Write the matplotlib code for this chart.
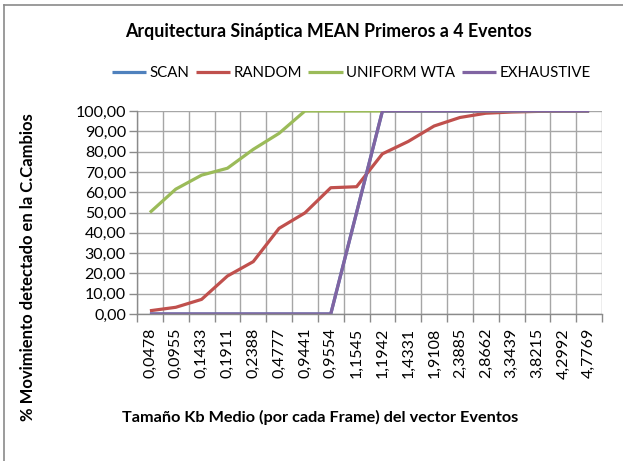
import matplotlib
matplotlib.use("Agg")
import matplotlib.pyplot as plt
from matplotlib.lines import Line2D
import numpy as np

categories = ["0,0478", "0,0955", "0,1433", "0,1911", "0,2388", "0,4777", "0,9441",
              "0,9554", "1,1545", "1,1942", "1,4331", "1,9108", "2,3885", "2,8662",
              "3,3439", "3,8215", "4,2992", "4,7769"]
scan = [0, 0, 0, 0, 0, 0, 0, 0, 50, 100, 100, 100, 100, 100, 100, 100, 100, 100]
random_ = [1.6, 3.3, 7.2, 18.7, 25.8, 42.2, 49.8, 62.2, 62.7, 78.9, 85.0, 92.6,
           96.8, 98.9, 99.5, 99.8, 100, 100]
uniform_wta = [50, 61.5, 68.4, 71.8, 81.1, 89.0, 100, 100, 100, 100, 100, 100,
               100, 100, 100, 100, 100, 100]
exhaustive = [0, 0, 0, 0, 0, 0, 0, 0, 50, 100, 100, 100, 100, 100, 100, 100, 100, 100]
series_names = ["SCAN", "RANDOM", "UNIFORM WTA", "EXHAUSTIVE"]
yticks = [0, 10, 20, 30, 40, 50, 60, 70, 80, 90, 100]

colors = ["#4F81BD", "#C0504D", "#9BBB59", "#8064A2"]
FONT = "Lato"

W, H = 623, 461
fig = plt.figure(figsize=(W / 100, H / 100), dpi=100)
fig.patch.set_facecolor("white")

# chart frame (left and top)
fig.add_artist(Line2D([4 / W, 4 / W], [0, 1 - 5 / H], transform=fig.transFigure,
                      color="#8a8a8a", lw=1.2))
fig.add_artist(Line2D([4 / W, 1], [1 - 5 / H, 1 - 5 / H], transform=fig.transFigure,
                      color="#8a8a8a", lw=1.2))

left, right, top, bottom = 137 / W, 602 / W, 111 / H, 314 / H
ax = fig.add_axes([left, 1 - bottom, right - left, bottom - top])

x = np.arange(len(categories))
data = [scan, random_, uniform_wta, exhaustive]
handles = []
for vals, c, name in zip(data, colors, series_names):
    (ln,) = ax.plot(x, vals, color=c, lw=2.3, label=name, solid_capstyle="butt")
    handles.append(ln)

ax.set_xlim(-0.5, len(categories) - 0.5)
ax.set_ylim(0, 100)
ax.set_yticks(yticks)
ax.set_yticklabels([f"{v:.2f}".replace(".", ",") for v in yticks],
                   fontsize=11.5, family=FONT)
ax.set_xticks(x)
ax.set_xticklabels(categories, rotation=90, fontsize=11.5, family=FONT)
ax.set_xticks(np.arange(len(categories) + 1) - 0.5, minor=True)
ax.tick_params(axis="x", which="major", length=0, pad=10)
ax.tick_params(axis="x", which="minor", length=6, color="#8a8a8a", width=1)
ax.tick_params(axis="y", length=6, color="#8a8a8a", width=1, pad=2)
ax.grid(True, axis="x", which="minor", color="#a6a6a6", lw=1)
ax.grid(True, axis="y", which="major", color="#a6a6a6", lw=1)
ax.set_axisbelow(True)
for s in ["top", "right"]:
    ax.spines[s].set_visible(False)
for s in ["left", "bottom"]:
    ax.spines[s].set_color("#8a8a8a")
    ax.spines[s].set_linewidth(1)

fig.text(329 / W, 1 - 31 / H, "Arquitectura Sináptica MEAN Primeros a 4 Eventos",
         ha="center", va="center", fontsize=12.8, fontweight="bold", family=FONT)
fig.text(320 / W, 1 - 417 / H, "Tamaño Kb Medio (por cada Frame) del vector Eventos",
         ha="center", va="center", fontsize=11.7, fontweight="bold", family=FONT)
fig.text(28 / W, 1 - 267 / H, "% Movimiento detectado en la C.Cambios",
         ha="center", va="center", rotation=90, fontsize=12, fontweight="bold",
         family=FONT)

leg = fig.legend(handles=handles, labels=series_names, loc="center",
                 bbox_to_anchor=(351 / W, 1 - 73 / H), ncol=4, frameon=False,
                 prop={"family": FONT, "size": 10.8}, handlelength=2.3,
                 handletextpad=0.2, columnspacing=0.45, borderpad=0)

fig.savefig("out.png", dpi=100)
